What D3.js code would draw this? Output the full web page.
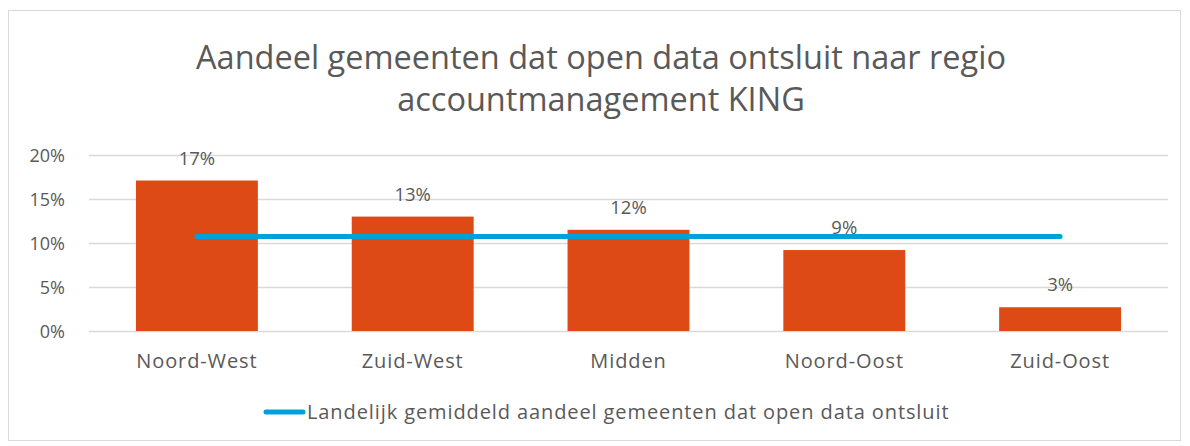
<!DOCTYPE html>
<html>
<head>
<meta charset="utf-8">
<script src="https://cdn.jsdelivr.net/npm/d3@7"></script>
<style>
  body { margin: 0; background: #fff; }
  text { font-family: "Open Sans", sans-serif; fill: #595959; }
</style>
</head>
<body>
<div id="chart"></div>
<script>
// data
const regions = ["Noord-West", "Zuid-West", "Midden", "Noord-Oost", "Zuid-Oost"];
const shares = [0.171, 0.130, 0.115, 0.092, 0.027];
const shareLabels = ["17%", "13%", "12%", "9%", "3%"];
const nationalAvg = [0.1075, 0.1075, 0.1075, 0.1075, 0.1075];
const yTicks = [0, 0.05, 0.10, 0.15, 0.20];
const titleLines = ["Aandeel gemeenten dat open data ontsluit naar regio", "accountmanagement KING"];
const legendLabel = "Landelijk gemiddeld aandeel gemeenten dat open data ontsluit";

const W = 1190, H = 446;
const margin = { top: 155, right: 22, bottom: 115, left: 89 },
  width = W - margin.left - margin.right,
  height = H - margin.top - margin.bottom;

const root = d3.select("#chart").append("svg")
  .attr("width", W)
  .attr("height", H);

// outer border
root.append("rect")
  .attr("x", 8.5).attr("y", 10.5)
  .attr("width", 1172).attr("height", 430)
  .attr("fill", "#fff")
  .attr("stroke", "#d9d9d9");

// title
root.append("text")
  .attr("text-anchor", "middle")
  .style("font-size", "32.5px")
  .selectAll("tspan")
  .data(titleLines)
  .join("tspan")
  .attr("x", 601)
  .attr("y", (d, i) => 69 + i * 42)
  .text(d => d);

const svg = root.append("g")
  .attr("transform", `translate(${margin.left},${margin.top})`);

const x = d3.scaleBand()
  .domain(regions)
  .range([0, width])
  .paddingInner(0.435)
  .paddingOuter(0.2175);

const y = d3.scaleLinear().domain([0, 0.2]).range([height, 0]);

// gridlines + y labels
const yAxis = svg.append("g")
  .call(d3.axisLeft(y).tickValues(yTicks).tickSize(-width).tickFormat(d3.format(".0%")));
yAxis.select(".domain").remove();
yAxis.selectAll(".tick line").attr("stroke", "#d9d9d9").attr("stroke-width", 1.3);
yAxis.selectAll(".tick text")
  .attr("x", -24)
  .attr("dy", "0.35em")
  .style("font-size", "18px")
  .style("font-family", "Open Sans")
  .attr("fill", "#595959");

// x labels
const xAxis = svg.append("g")
  .attr("transform", `translate(0,${height})`)
  .call(d3.axisBottom(x).tickSize(0));
xAxis.select(".domain").remove();
xAxis.selectAll(".tick text")
  .attr("dy", "1.7em")
  .style("font-size", "20px")
  .style("letter-spacing", "0.9px")
  .style("font-family", "Open Sans")
  .attr("fill", "#595959");

// bars
svg.selectAll("rect.bar")
  .data(regions)
  .join("rect")
  .attr("class", "bar")
  .attr("x", d => x(d))
  .attr("y", (d, i) => y(shares[i]))
  .attr("width", x.bandwidth())
  .attr("height", (d, i) => height - y(shares[i]))
  .attr("fill", "#dd4a16");

// average line
const line = d3.line()
  .x((d, i) => x(regions[i]) + x.bandwidth() / 2)
  .y(d => y(d));

svg.append("path")
  .datum(nationalAvg)
  .attr("d", line)
  .attr("fill", "none")
  .attr("stroke", "#00a0dc")
  .attr("stroke-width", 5)
  .attr("stroke-linecap", "round");

// data labels
svg.selectAll("text.lbl")
  .data(regions)
  .join("text")
  .attr("class", "lbl")
  .attr("text-anchor", "middle")
  .attr("x", d => x(d) + x.bandwidth() / 2)
  .attr("y", (d, i) => y(shares[i]) - 16)
  .style("font-size", "18.5px")
  .text((d, i) => shareLabels[i]);

// legend
const legend = root.append("g").attr("transform", "translate(266,412)");
legend.append("line")
  .attr("x1", 0).attr("x2", 37)
  .attr("stroke", "#00a0dc")
  .attr("stroke-width", 5)
  .attr("stroke-linecap", "round");
legend.append("text")
  .attr("x", 41)
  .attr("dy", "0.35em")
  .style("font-size", "20px")
  .style("letter-spacing", "0.9px")
  .text(legendLabel);
</script>
</body>
</html>
